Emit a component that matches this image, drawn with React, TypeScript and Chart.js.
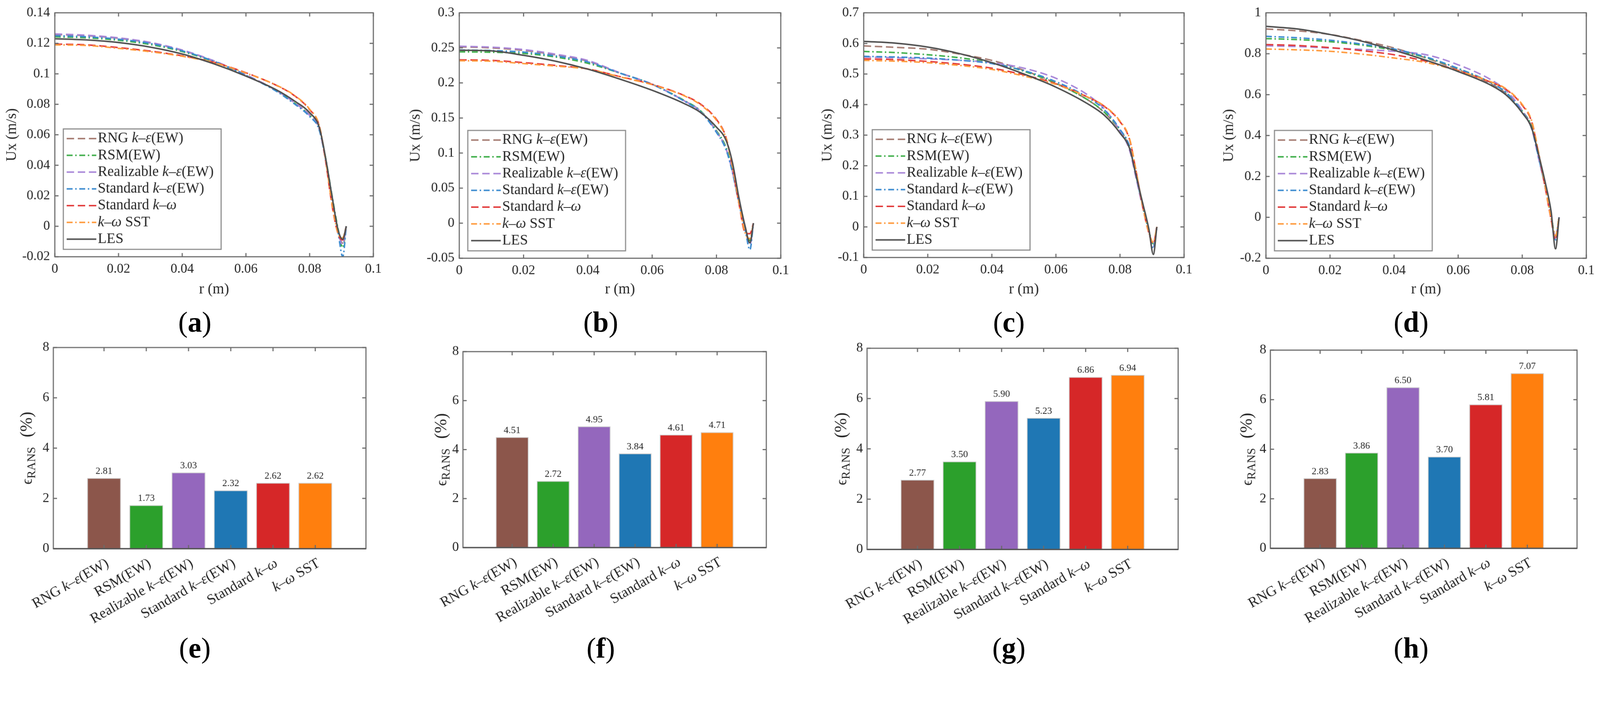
import { useEffect, useRef } from 'react';
import { Chart, registerables } from 'chart.js';
Chart.register(...registerables);

const SERIF = "'Liberation Serif', 'Times New Roman', serif";
const INK = '#262626';
const AXIS = '#6b6b6b';
const PAGE_W = 4320;
const PAGE_H = 1817;

// radial positions (m) shared by every velocity profile
const R_POS = [0, 0.01, 0.02, 0.03, 0.04, 0.05, 0.06, 0.07, 0.075, 0.08, 0.083, 0.085, 0.087, 0.089, 0.0904, 0.0915];
const R_TICKS = [0, 0.02, 0.04, 0.06, 0.08, 0.1];

const MODELS = ['RNG k–ε(EW)', 'RSM(EW)', 'Realizable k–ε(EW)', 'Standard k–ε(EW)', 'Standard k–ω', 'k–ω SST'];
const LINE_NAMES = [...MODELS, 'LES'];
const LINE_COLORS = ['#a57b71', '#3fae4a', '#a886d8', '#3b8bd0', '#e23b3b', '#ff9a3c', '#4f4f4f'];
const DASH = [20, 10];
const DASH_DOT = [16, 7, 4, 7];
const LINE_DASHES = [DASH, DASH_DOT, DASH, DASH_DOT, DASH, DASH_DOT, []];
const BAR_COLORS = ['#8c564b', '#2ca02c', '#9467bd', '#1f77b4', '#d62728', '#ff7f0e'];

// (a) Ux profiles
const A_RNG = [0.1258, 0.125, 0.1233, 0.1203, 0.1153, 0.1083, 0.0992, 0.0885, 0.0815, 0.073, 0.064, 0.044, 0.019, -0.004, -0.011, 0];
const A_RSM = [0.1243, 0.1236, 0.122, 0.1192, 0.1146, 0.1079, 0.099, 0.0883, 0.0812, 0.0728, 0.0642, 0.045, 0.0205, -0.0025, -0.014, 0];
const A_REAL = [0.1262, 0.1253, 0.1236, 0.1206, 0.1156, 0.1085, 0.0994, 0.0886, 0.0814, 0.0727, 0.0636, 0.0438, 0.019, -0.0045, -0.012, 0];
const A_SKE = [0.125, 0.1243, 0.1227, 0.1199, 0.1151, 0.1082, 0.099, 0.088, 0.0806, 0.072, 0.0632, 0.044, 0.02, -0.005, -0.02, 0];
const A_SKW = [0.1195, 0.119, 0.1172, 0.1149, 0.1118, 0.1075, 0.1007, 0.092, 0.086, 0.0765, 0.066, 0.043, 0.014, -0.0055, -0.009, 0];
const A_SST = [0.119, 0.1186, 0.1167, 0.1145, 0.1115, 0.1073, 0.1005, 0.0921, 0.0862, 0.0768, 0.0662, 0.0438, 0.015, -0.005, -0.0075, 0];
const A_LES = [0.123, 0.1222, 0.1205, 0.1175, 0.113, 0.1065, 0.0985, 0.089, 0.0825, 0.0745, 0.065, 0.045, 0.02, -0.003, -0.0085, 0];

// (b) Ux profiles
const B_RNG = [0.2514, 0.25, 0.2465, 0.24, 0.231, 0.214, 0.198, 0.1745, 0.16, 0.131, 0.106, 0.074, 0.03, -0.009, -0.03, 0];
const B_RSM = [0.2444, 0.2438, 0.242, 0.237, 0.228, 0.214, 0.1982, 0.175, 0.1605, 0.132, 0.108, 0.076, 0.031, -0.007, -0.025, 0];
const B_REAL = [0.2524, 0.251, 0.2476, 0.241, 0.232, 0.2145, 0.1982, 0.1745, 0.1598, 0.1305, 0.1055, 0.073, 0.029, -0.009, -0.031, 0];
const B_SKE = [0.247, 0.2462, 0.244, 0.2385, 0.23, 0.214, 0.198, 0.174, 0.159, 0.1295, 0.1045, 0.072, 0.028, -0.011, -0.038, 0];
const B_SKW = [0.233, 0.2322, 0.229, 0.225, 0.22, 0.209, 0.198, 0.182, 0.17, 0.148, 0.122, 0.08, 0.028, -0.014, -0.015, 0];
const B_SST = [0.2317, 0.231, 0.2276, 0.224, 0.2197, 0.2086, 0.1975, 0.1816, 0.169, 0.1467, 0.121, 0.08, 0.029, -0.015, -0.022, 0];
const B_LES = [0.2467, 0.2457, 0.2394, 0.231, 0.2197, 0.2054, 0.1895, 0.1705, 0.158, 0.137, 0.118, 0.086, 0.036, -0.006, -0.028, 0];

// (c) Ux profiles
const C_RNG = [0.592, 0.587, 0.581, 0.565, 0.5445, 0.512, 0.47, 0.415, 0.375, 0.315, 0.26, 0.165, 0.07, -0.015, -0.06, 0];
const C_RSM = [0.5737, 0.57, 0.563, 0.553, 0.537, 0.509, 0.469, 0.415, 0.376, 0.317, 0.262, 0.168, 0.073, -0.012, -0.055, 0];
const C_REAL = [0.5555, 0.553, 0.5496, 0.545, 0.537, 0.519, 0.486, 0.431, 0.387, 0.314, 0.25, 0.16, 0.068, -0.015, -0.065, 0];
const C_SKE = [0.5577, 0.5555, 0.552, 0.545, 0.534, 0.511, 0.475, 0.423, 0.384, 0.319, 0.262, 0.168, 0.072, -0.013, -0.07, 0];
const C_SKW = [0.5496, 0.547, 0.541, 0.532, 0.519, 0.497, 0.468, 0.424, 0.395, 0.344, 0.285, 0.183, 0.07, -0.02, -0.055, 0];
const C_SST = [0.5445, 0.542, 0.537, 0.528, 0.515, 0.4934, 0.466, 0.424, 0.396, 0.346, 0.288, 0.185, 0.072, -0.018, -0.05, 0];
const C_LES = [0.6066, 0.6007, 0.588, 0.5664, 0.537, 0.5, 0.457, 0.402, 0.366, 0.307, 0.256, 0.169, 0.081, -0.0066, -0.09, 0];

// (d) Ux profiles
const D_RNG = [0.921, 0.912, 0.894, 0.864, 0.828, 0.779, 0.722, 0.655, 0.605, 0.52, 0.44, 0.31, 0.17, 0.01, -0.1, 0];
const D_RSM = [0.874, 0.869, 0.859, 0.842, 0.817, 0.781, 0.728, 0.66, 0.61, 0.52, 0.44, 0.305, 0.165, 0.005, -0.09, 0];
const D_REAL = [0.839, 0.835, 0.828, 0.821, 0.812, 0.795, 0.746, 0.675, 0.62, 0.522, 0.43, 0.295, 0.16, 0, -0.1, 0];
const D_SKE = [0.885, 0.878, 0.866, 0.847, 0.823, 0.784, 0.728, 0.66, 0.608, 0.515, 0.432, 0.3, 0.16, 0, -0.11, 0];
const D_SKW = [0.845, 0.84, 0.83, 0.815, 0.795, 0.763, 0.718, 0.662, 0.625, 0.548, 0.465, 0.32, 0.16, -0.01, -0.11, 0];
const D_SST = [0.823, 0.819, 0.812, 0.798, 0.779, 0.757, 0.716, 0.664, 0.628, 0.552, 0.47, 0.325, 0.165, -0.005, -0.09, 0];
const D_LES = [0.934, 0.921, 0.894, 0.861, 0.817, 0.768, 0.713, 0.648, 0.598, 0.511, 0.434, 0.314, 0.183, 0.03, -0.154, 0];

const UX_TICKS_A = [-0.02, 0, 0.02, 0.04, 0.06, 0.08, 0.1, 0.12, 0.14];
const UX_TICKS_B = [-0.05, 0, 0.05, 0.1, 0.15, 0.2, 0.25, 0.3];
const UX_TICKS_C = [-0.1, 0, 0.1, 0.2, 0.3, 0.4, 0.5, 0.6, 0.7];
const UX_TICKS_D = [-0.2, 0, 0.2, 0.4, 0.6, 0.8, 1];

// RANS error (%) per model
const ERR_E = [2.81, 1.73, 3.03, 2.32, 2.62, 2.62];
const ERR_F = [4.51, 2.72, 4.95, 3.84, 4.61, 4.71];
const ERR_G = [2.77, 3.5, 5.9, 5.23, 6.86, 6.94];
const ERR_H = [2.83, 3.86, 6.5, 3.7, 5.81, 7.07];
const ERR_TICKS = [0, 2, 4, 6, 8];

const LINE_PANELS = [
  { id: 'a', titleX: 32, left: 148, right: 1008, top: 33, bottom: 693, ticks: UX_TICKS_A, series: [A_RNG, A_RSM, A_REAL, A_SKE, A_SKW, A_SST, A_LES] },
  { id: 'b', titleX: 1122, left: 1240, right: 2108, top: 29, bottom: 697, ticks: UX_TICKS_B, series: [B_RNG, B_RSM, B_REAL, B_SKE, B_SKW, B_SST, B_LES] },
  { id: 'c', titleX: 2234, left: 2332, right: 3197, top: 32, bottom: 695, ticks: UX_TICKS_C, series: [C_RNG, C_RSM, C_REAL, C_SKE, C_SKW, C_SST, C_LES] },
  { id: 'd', titleX: 3318, left: 3418, right: 4283, top: 32, bottom: 697, ticks: UX_TICKS_D, series: [D_RNG, D_RSM, D_REAL, D_SKE, D_SKW, D_SST, D_LES] },
];
const BAR_PANELS = [
  { id: 'e', titleX: 86, left: 144, right: 988, top: 938, bottom: 1481, values: ERR_E },
  { id: 'f', titleX: 1205, left: 1250, right: 2069, top: 949, bottom: 1478, values: ERR_F },
  { id: 'g', titleX: 2285, left: 2341, right: 3181, top: 940, bottom: 1483, values: ERR_G },
  { id: 'h', titleX: 3380, left: 3430, right: 4258, top: 945, bottom: 1480, values: ERR_H },
];
const TAG_X = [526, 1622, 2724, 3810];

const fmt = (v: number) => String(Math.round(v * 1000) / 1000);

// text with italic k, ε, ω (the LaTeX math letters of the labels)
function drawRich(ctx: CanvasRenderingContext2D, text: string, x: number, y: number, size: number, align: 'left' | 'right') {
  const parts: { t: string; it: boolean }[] = [];
  for (const ch of text) {
    const it = 'kεω'.includes(ch);
    const last = parts[parts.length - 1];
    if (last && last.it === it) last.t += ch;
    else parts.push({ t: ch, it });
  }
  const fonts = parts.map((p) => `${p.it ? 'italic ' : ''}${size}px ${SERIF}`);
  const widths = parts.map((p, i) => { ctx.font = fonts[i]; return ctx.measureText(p.t).width; });
  let cx = align === 'left' ? x : x - widths.reduce((s, w) => s + w, 0);
  ctx.textAlign = 'left';
  parts.forEach((p, i) => { ctx.font = fonts[i]; ctx.fillText(p.t, cx, y); cx += widths[i]; });
}

// MATLAB-style box with inward ticks on all four sides
const framePlugin = {
  id: 'frame',
  afterDatasetsDraw(chart: any) {
    const { ctx, chartArea: a, scales } = chart;
    const len = 10;
    ctx.save();
    ctx.strokeStyle = AXIS;
    ctx.lineWidth = 3;
    ctx.setLineDash([]);
    ctx.beginPath();
    scales.x.ticks.forEach((t: any) => {
      const p = scales.x.getPixelForValue(t.value);
      ctx.moveTo(p, a.bottom); ctx.lineTo(p, a.bottom - len);
      ctx.moveTo(p, a.top); ctx.lineTo(p, a.top + len);
    });
    scales.y.ticks.forEach((t: any) => {
      const p = scales.y.getPixelForValue(t.value);
      ctx.moveTo(a.left, p); ctx.lineTo(a.left + len, p);
      ctx.moveTo(a.right, p); ctx.lineTo(a.right - len, p);
    });
    ctx.stroke();
    ctx.strokeRect(a.left, a.top, a.right - a.left, a.bottom - a.top);
    ctx.restore();
  },
};

const keyPlugin = {
  id: 'key',
  afterDatasetsDraw(chart: any) {
    const { ctx, chartArea: a } = chart;
    const w = 426, h = 325;
    const x0 = a.left + 23, y0 = a.bottom - 20 - h;
    ctx.save();
    ctx.fillStyle = '#fff';
    ctx.fillRect(x0, y0, w, h);
    ctx.strokeStyle = '#8c8c8c';
    ctx.lineWidth = 3;
    ctx.strokeRect(x0, y0, w, h);
    chart.data.datasets.forEach((ds: any, i: number) => {
      const y = y0 + 26 + i * 45.25;
      ctx.strokeStyle = ds.borderColor;
      ctx.lineWidth = 4;
      ctx.setLineDash(ds.borderDash);
      ctx.beginPath();
      ctx.moveTo(x0 + 9, y);
      ctx.lineTo(x0 + 89, y);
      ctx.stroke();
      ctx.setLineDash([]);
      ctx.fillStyle = INK;
      ctx.textBaseline = 'middle';
      drawRich(ctx, ds.label, x0 + 93, y, 39, 'left');
    });
    ctx.restore();
  },
};

function LinePanel({ p }: { p: any }) {
  const ref = useRef<HTMLCanvasElement>(null);
  const cLeft = p.titleX - 32;
  const W = p.right + 36 - cLeft;
  const H = 805;

  useEffect(() => {
    const tickFont = { family: SERIF, size: 36 };
    const titleFont = { family: SERIF, size: 40, lineHeight: 1.2 };
    const chart = new Chart(ref.current!, {
      type: 'line',
      data: {
        datasets: LINE_NAMES.map((name, i) => ({
          label: name,
          data: R_POS.map((r, j) => ({ x: r, y: p.series[i][j] })),
          borderColor: LINE_COLORS[i],
          borderDash: LINE_DASHES[i],
          borderWidth: 4,
          pointRadius: 0,
          cubicInterpolationMode: 'monotone',
          order: LINE_NAMES.length - i,
        })),
      },
      options: {
        responsive: false, animation: false, devicePixelRatio: 1, events: [],
        layout: { padding: { top: p.top, right: 36, left: 0, bottom: 0 } },
        plugins: { legend: { display: false }, tooltip: { enabled: false } },
        scales: {
          x: {
            type: 'linear', min: 0, max: 0.1,
            afterBuildTicks: (s: any) => { s.ticks = R_TICKS.map((v) => ({ value: v })); },
            afterFit: (s: any) => { s.height = H - p.bottom; },
            ticks: { font: tickFont, color: INK, padding: 12, maxRotation: 0, autoSkip: false, callback: (v: any) => fmt(v) },
            grid: { display: false, drawTicks: false },
            border: { display: false },
            title: { display: true, text: 'r (m)', font: titleFont, color: INK, padding: 0 },
          },
          y: {
            type: 'linear', min: p.ticks[0], max: p.ticks[p.ticks.length - 1],
            afterBuildTicks: (s: any) => { s.ticks = p.ticks.map((v: number) => ({ value: v })); },
            afterFit: (s: any) => { s.width = p.left - cLeft; },
            ticks: { font: tickFont, color: INK, padding: 13, autoSkip: false, callback: (v: any) => fmt(v) },
            grid: { display: false, drawTicks: false },
            border: { display: false },
            title: { display: true, text: 'Ux (m/s)', font: titleFont, color: INK, padding: { top: 8, bottom: 0 } },
          },
        },
      },
      plugins: [framePlugin, keyPlugin],
    } as any);
    return () => chart.destroy();
  }, []);

  return <canvas ref={ref} width={W} height={H} style={{ position: 'absolute', left: cLeft, top: 0, width: W, height: H }} />;
}

function BarPanel({ p }: { p: any }) {
  const ref = useRef<HTMLCanvasElement>(null);
  const cLeft = p.left - 110;
  const cTop = 900;
  const W = p.right + 30 - cLeft;
  const H = 1720 - cTop;

  useEffect(() => {
    const labelPlugin = {
      id: 'barText',
      afterDatasetsDraw(chart: any) {
        const { ctx, chartArea: a, scales } = chart;
        const meta = chart.getDatasetMeta(0);
        ctx.save();
        ctx.fillStyle = INK;
        ctx.font = `26px ${SERIF}`;
        ctx.textAlign = 'center';
        ctx.textBaseline = 'bottom';
        meta.data.forEach((bar: any, i: number) => ctx.fillText(p.values[i].toFixed(2), bar.x, bar.y - 5));
        MODELS.forEach((name, i) => {
          const px = scales.x.getPixelForValue(i + 1);
          ctx.save();
          ctx.translate(px, a.bottom + 20);
          ctx.rotate(-Math.PI / 6);
          ctx.textBaseline = 'top';
          drawRich(ctx, name, 0, 0, 39, 'right');
          ctx.restore();
        });
        // y title: ϵ_RANS (%)
        ctx.save();
        ctx.translate(p.titleX - cLeft, (a.top + a.bottom) / 2);
        ctx.rotate(-Math.PI / 2);
        ctx.textBaseline = 'alphabetic';
        ctx.textAlign = 'left';
        const pieces = [
          { t: 'ϵ', f: `40px ${SERIF}`, dy: 0, gap: 0 },
          { t: 'RANS', f: `32px ${SERIF}`, dy: 9, gap: 26 },
          { t: '(%)', f: `46px ${SERIF}`, dy: 0, gap: 0 },
        ];
        const widths = pieces.map((s) => { ctx.font = s.f; return ctx.measureText(s.t).width; });
        let x = -(widths.reduce((s, w) => s + w, 0) + pieces.reduce((s, q) => s + q.gap, 0)) / 2;
        pieces.forEach((s, i) => { ctx.font = s.f; ctx.fillText(s.t, x, s.dy); x += widths[i] + s.gap; });
        ctx.restore();
        // darker zero line
        ctx.strokeStyle = '#555';
        ctx.lineWidth = 3.5;
        ctx.beginPath();
        ctx.moveTo(a.left, a.bottom);
        ctx.lineTo(a.right, a.bottom);
        ctx.stroke();
        ctx.restore();
      },
    };

    const chart = new Chart(ref.current!, {
      type: 'bar',
      data: {
        datasets: [{
          data: p.values.map((v: number, i: number) => ({ x: i + 1, y: v })),
          backgroundColor: BAR_COLORS,
          borderColor: '#c9c9c9',
          borderWidth: 2,
          barPercentage: 0.8,
          categoryPercentage: 1,
        }],
      },
      options: {
        responsive: false, animation: false, devicePixelRatio: 1, events: [],
        layout: { padding: { top: p.top - cTop, right: 30, left: 0, bottom: 0 } },
        plugins: { legend: { display: false }, tooltip: { enabled: false } },
        scales: {
          x: {
            type: 'linear', min: -0.2, max: 7.2, offset: false,
            afterBuildTicks: (s: any) => { s.ticks = MODELS.map((_, i) => ({ value: i + 1 })); },
            afterFit: (s: any) => { s.height = 1720 - p.bottom; },
            ticks: { display: false },
            grid: { display: false, drawTicks: false, offset: false },
            border: { display: false },
          },
          y: {
            type: 'linear', min: 0, max: 8,
            afterBuildTicks: (s: any) => { s.ticks = ERR_TICKS.map((v) => ({ value: v })); },
            afterFit: (s: any) => { s.width = 110; },
            ticks: { font: { family: SERIF, size: 36 }, color: INK, padding: 11, autoSkip: false },
            grid: { display: false, drawTicks: false },
            border: { display: false },
          },
        },
      },
      plugins: [framePlugin, labelPlugin],
    } as any);
    return () => chart.destroy();
  }, []);

  return <canvas ref={ref} width={W} height={H} style={{ position: 'absolute', left: cLeft, top: cTop, width: W, height: H }} />;
}

function Tag({ x, y, letter }: { x: number; y: number; letter: string }) {
  return (
    <div style={{ position: 'absolute', left: x, top: y - 7, transform: 'translate(-50%, -50%)', font: `77px ${SERIF}`, lineHeight: 1, color: '#000', whiteSpace: 'nowrap' }}>
      (<b>{letter}</b>)
    </div>
  );
}

export default function App() {
  // the figure is laid out in screenshot pixels; fit it to the CSS width of the window
  const vw = document.documentElement.clientWidth || window.innerWidth || PAGE_W;
  const s = vw / PAGE_W;
  return (
    <div style={{ position: 'absolute', left: 0, top: 0, width: PAGE_W * s, height: PAGE_H * s, overflow: 'hidden', background: '#fff' }}>
      <div style={{ position: 'absolute', left: 0, top: 0, width: PAGE_W, height: PAGE_H, transform: `scale(${s})`, transformOrigin: '0 0' }}>
        {LINE_PANELS.map((p) => <LinePanel key={p.id} p={p} />)}
        {BAR_PANELS.map((p) => <BarPanel key={p.id} p={p} />)}
        {LINE_PANELS.map((p, i) => <Tag key={p.id} x={TAG_X[i]} y={877} letter={p.id} />)}
        {BAR_PANELS.map((p, i) => <Tag key={p.id} x={TAG_X[i]} y={1757} letter={p.id} />)}
      </div>
    </div>
  );
}
